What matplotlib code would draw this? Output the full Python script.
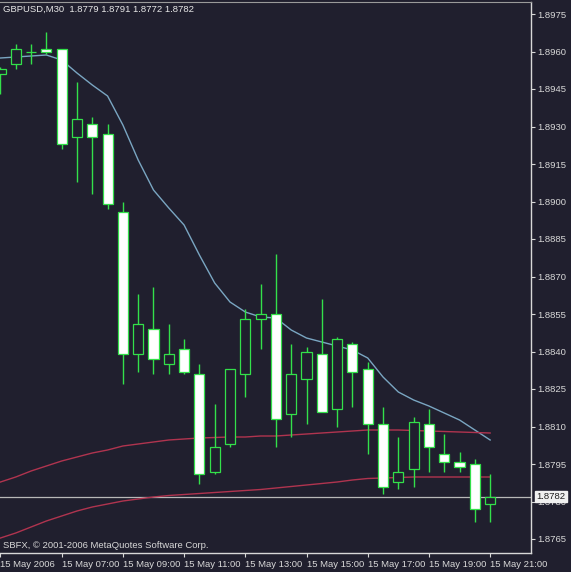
import matplotlib
matplotlib.use('Agg')
import matplotlib.pyplot as plt
import numpy as np

# 30-minute bars, GBPUSD, 15 May 2006 05:00 .. 21:00
opens = [1.8951, 1.8955, 1.8960, 1.8961, 1.8961, 1.8926, 1.8931, 1.8927, 1.8896, 1.8839, 1.8849,
         1.8835, 1.8841, 1.8831, 1.8792, 1.8803, 1.8831, 1.8853, 1.8855, 1.8815, 1.8829, 1.8839,
         1.8817, 1.8843, 1.8833, 1.8811, 1.8788, 1.8793, 1.8811, 1.8799, 1.8796, 1.8795, 1.8779]
highs = [1.8954, 1.8963, 1.8963, 1.8968, 1.8961, 1.8948, 1.8934, 1.8931, 1.8900, 1.8863, 1.8866,
         1.8851, 1.8845, 1.8835, 1.8819, 1.8833, 1.8857, 1.8867, 1.8879, 1.8843, 1.8842, 1.8861,
         1.8846, 1.8844, 1.8836, 1.8818, 1.8806, 1.8814, 1.8817, 1.8807, 1.8800, 1.8797, 1.8791]
lows = [1.8943, 1.8953, 1.8955, 1.8959, 1.8921, 1.8908, 1.8903, 1.8897, 1.8827, 1.8832, 1.8831,
        1.8831, 1.8831, 1.8787, 1.8791, 1.8802, 1.8822, 1.8841, 1.8802, 1.8806, 1.8811, 1.8816,
        1.8810, 1.8818, 1.8799, 1.8783, 1.8785, 1.8786, 1.8792, 1.8792, 1.8792, 1.8772, 1.8772]
closes = [1.8953, 1.8961, 1.8960, 1.8960, 1.8923, 1.8933, 1.8926, 1.8899, 1.8839, 1.8851, 1.8837,
          1.8839, 1.8832, 1.8791, 1.8802, 1.8833, 1.8853, 1.8855, 1.8813, 1.8831, 1.8840, 1.8816,
          1.8845, 1.8832, 1.8811, 1.8786, 1.8792, 1.8812, 1.8802, 1.8796, 1.8794, 1.8777, 1.8782]

# moving averages
ma_fast = [1.89574, 1.89578, 1.89582, 1.89586, 1.89566, 1.89514, 1.89466, 1.89422, 1.89306, 1.89166,
           1.89046, 1.88974, 1.88906, 1.88786, 1.88674, 1.88598, 1.88558, 1.88538, 1.88534, 1.88486,
           1.88454, 1.88438, 1.88422, 1.88406, 1.88374, 1.88298, 1.88238, 1.88206, 1.88182, 1.88154,
           1.88126, 1.88086, 1.88046]
ma_mid = [1.87878, 1.87898, 1.87922, 1.87942, 1.87962, 1.87978, 1.87994, 1.88006, 1.88022, 1.88030,
          1.88038, 1.88046, 1.88050, 1.88054, 1.88056, 1.88058, 1.88058, 1.88062, 1.88062, 1.88066,
          1.88070, 1.88074, 1.88078, 1.88082, 1.88086, 1.88086, 1.88086, 1.88084, 1.88082, 1.88080,
          1.88078, 1.88076, 1.88074]
ma_slow = [1.87654, 1.87674, 1.87698, 1.87722, 1.87742, 1.87762, 1.87778, 1.87790, 1.87802, 1.87810,
           1.87818, 1.87824, 1.87828, 1.87832, 1.87836, 1.87840, 1.87844, 1.87848, 1.87854, 1.87860,
           1.87866, 1.87872, 1.87878, 1.87886, 1.87892, 1.87894, 1.87896, 1.87898, 1.87898, 1.87898,
           1.87898, 1.87898, 1.87898]

xtick_pos = [0, 4, 8, 12, 16, 20, 24, 28, 32]
xtick_labels = ['15 May 2006', '15 May 07:00', '15 May 09:00', '15 May 11:00', '15 May 13:00',
                '15 May 15:00', '15 May 17:00', '15 May 19:00', '15 May 21:00']
ytick_vals = [1.8975, 1.8960, 1.8945, 1.8930, 1.8915, 1.8900, 1.8885, 1.8870, 1.8855, 1.8840,
              1.8825, 1.8810, 1.8795, 1.8780, 1.8765]
bid = 1.8782

bg = '#201f2e'
green = '#33e04a'
txt = '#d8d8d8'
font = 'Liberation Sans'

fig = plt.figure(figsize=(5.71, 5.72), dpi=100, facecolor=bg)
ax = fig.add_axes([0, 19 / 572, 531 / 571, 551.5 / 572], facecolor=bg)

x = np.arange(len(opens))
o = np.array(opens)
c = np.array(closes)

# wicks
ax.vlines(x, lows, highs, color=green, linewidth=1.0, zorder=3)

# bodies: bear = white, bull = hollow
bear = c < o
fill = ['white' if b else bg for b in bear]
ax.bar(x, np.abs(c - o), bottom=np.minimum(o, c), width=0.66, color=fill,
       edgecolor=green, linewidth=0.9, zorder=4)

# moving averages
ax.plot(x, ma_fast, color='#7aa6c2', linewidth=1.0, zorder=2)
ax.plot(x, ma_mid, color='#b0344f', linewidth=1.0, zorder=2)
ax.plot(x, ma_slow, color='#b0344f', linewidth=1.0, zorder=2)

# bid line
ax.axhline(bid, color='#b8b8b8', linewidth=0.9, zorder=1)

ax.set_xlim(-0.03, 34.67)
ax.set_ylim(1.87594, 1.8980)

ax.yaxis.tick_right()
ax.set_yticks(ytick_vals)
ax.set_yticklabels(['%.4f' % v for v in ytick_vals], fontsize=6.8, color=txt, family=font)
ax.set_xticks(xtick_pos)
ax.set_xticklabels(xtick_labels, fontsize=6.8, color=txt, family=font, ha='left')
ax.tick_params(axis='y', colors='#d8d8d8', length=3, width=0.8, pad=1.5, labelcolor=txt)
ax.tick_params(axis='x', colors='#d8d8d8', length=3, width=0.8, pad=2, labelcolor=txt)
for lbl in ax.get_xticklabels():
    lbl.set_x(lbl.get_position()[0])

for s in ['right', 'bottom']:
    ax.spines[s].set_color('#d8d8d8')
    ax.spines[s].set_linewidth(1.0)
ax.spines['top'].set_color('#9a9a9a')
ax.spines['left'].set_visible(False)

# price box for current bid
ax.annotate('%.4f' % bid, xy=(1.0, bid), xycoords=('axes fraction', 'data'),
            xytext=(4, 0), textcoords='offset points', va='center', ha='left',
            fontsize=6.8, color='#202020', family=font, zorder=10,
            bbox=dict(boxstyle='square,pad=0.15', fc='#f0f0f0', ec='#f0f0f0'),
            annotation_clip=False)

fig.text(3 / 571, 1 - 9 / 572, 'GBPUSD,M30  1.8779 1.8791 1.8772 1.8782', fontsize=6.8,
         color='#e8e8e8', family=font, va='center', ha='left')
ax.text(3 / 531, 7 / 551.5, 'SBFX, \u00a9 2001-2006 MetaQuotes Software Corp.',
        transform=ax.transAxes, fontsize=6.8, color=txt, family=font, va='center', ha='left')

plt.savefig('out.png', dpi=100, facecolor=bg)
